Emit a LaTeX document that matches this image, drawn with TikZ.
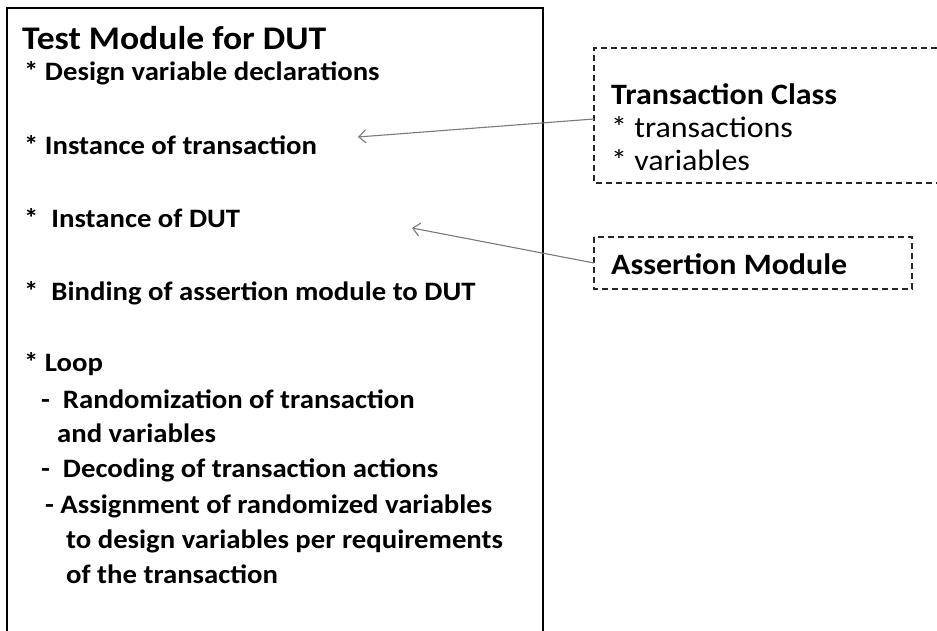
\documentclass[tikz,border=0pt]{standalone}
\usepackage{fontspec}
\setmainfont{Carlito}[FakeStretch=1.08]
\usetikzlibrary{arrows.meta}
\begin{document}
\begin{tikzpicture}[x=1pt,y=-1pt,
  title/.style={anchor=base west,inner sep=0pt,font=\fontsize{33}{36}\selectfont\bfseries},
  item/.style={anchor=base west,inner sep=0pt,font=\fontsize{26.6}{30}\selectfont\bfseries},
  head/.style={anchor=base west,inner sep=0pt,font=\fontsize{29.6}{34}\selectfont\bfseries},
  plain/.style={anchor=base west,inner sep=0pt,font=\fontsize{29.6}{34}\selectfont},
  dbox/.style={draw=black!85,line width=1.2pt,dash pattern=on 6pt off 4pt},
  conn/.style={draw=black!52,line width=1.1pt,-{Straight Barb[length=7pt,width=13pt,line width=1.1pt]}}]
\useasboundingbox (0,0) rectangle (937,631);
\fill[white] (0,0) rectangle (937,631);
\begin{scope}
\clip (0,0) rectangle (937,631);
% main test module box (continues below the picture)
\draw[line width=1.3pt] (7,640) -- (7,8) -- (543,8) -- (543,640);
% transaction class box (open on the right)
\draw[dbox] (937,48) -- (594,48) -- (594,183) -- (937,183);
\end{scope}
\draw[dbox] (594,237) rectangle (912,289);
\coordinate (tcl) at (594,119);
\coordinate (acl) at (594,263);

\node[title] (t) at (22,50) {Test Module for DUT};
\node[item] (i1) at (24,81) {* Design variable declarations};
\node[item] (i2) at (24,155) {* Instance of transaction};
\node[item] (i3) at (24,228) {*\ \ Instance of DUT};
\node[item] (i4) at (24,300) {*\ \ Binding of assertion module to DUT};
\node[item] (i5) at (24,371) {* Loop};
\node[item] (i6) at (41,408) {-\ \ Randomization of transaction};
\node[item] (i7) at (57,442) {and variables};
\node[item] (i8) at (41,477) {-\ \ Decoding of transaction actions};
\node[item] (i9) at (45,513) {- Assignment of randomized variables};
\node[item] (i10) at (66,548) {to design variables per requirements};
\node[item] (i11) at (66,583) {of the transaction};

\node[head] (tc) at (611,105) {Transaction Class};
\node[plain] (tc1) at (611,138) {* transactions};
\node[plain] (tc2) at (611,171) {* variables};
\node[head] (am) at (611,274) {Assertion Module};

\coordinate (tip1) at (358,137);
\coordinate (tip2) at (412,228);
\draw[conn] (tcl) -- (tip1);
\draw[conn] (acl) -- (tip2);
\end{tikzpicture}
\end{document}
